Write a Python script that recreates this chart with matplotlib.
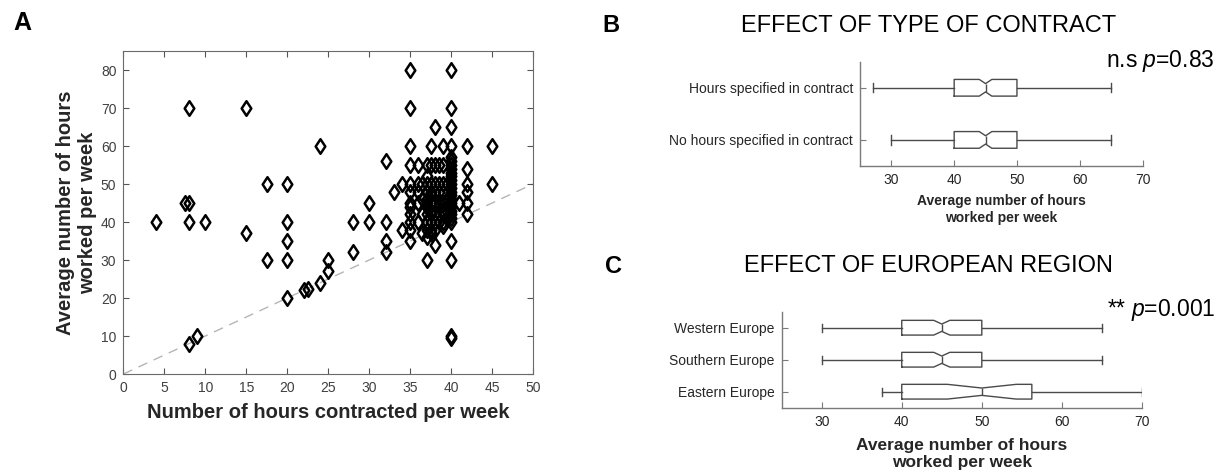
import numpy as np
import matplotlib
matplotlib.use('Agg')
import matplotlib.pyplot as plt
from matplotlib.path import Path
import warnings

warnings.filterwarnings('ignore')

# panel A: contracted vs worked hours
hours_contracted = [
    4, 7.5, 8, 8, 8, 8, 9, 10, 15, 15, 17.5, 17.5, 20, 20, 20, 20, 20,
    22, 22.5, 24, 24, 25, 25, 28, 28, 30, 30, 32, 32, 32, 32, 33, 34, 34,
    35, 35, 35, 35, 35, 35, 35, 35, 35, 35, 35, 35,
    36, 36, 36, 36, 36,
    36.5, 36.5, 36.5, 36.5,
    37, 37, 37, 37, 37, 37, 37, 37, 37, 37, 37, 37,
    37.5, 37.5, 37.5, 37.5, 37.5, 37.5, 37.5, 37.5, 37.5, 37.5, 37.5,
    38, 38, 38, 38, 38, 38, 38, 38, 38,
    38.5, 38.5, 38.5, 38.5, 38.5, 38.5, 38.5,
    39, 39, 39, 39, 39, 39, 39, 39, 39,
    39.5, 39.5, 39.5, 39.5,
    40, 40, 40, 40, 40, 40, 40, 40, 40, 40, 40, 40, 40,
    40, 40, 40, 40, 40, 40, 40, 40, 40, 40, 40, 40, 40,
    41, 42, 42, 42, 42, 42, 42, 45, 45,
]
hours_worked = [
    40, 45, 45, 40, 70, 8, 10, 40, 70, 37, 50, 30, 50, 40, 35, 30, 20,
    22, 22.5, 60, 24, 30, 27, 40, 32, 45, 40, 56, 40, 35, 32, 48, 50, 38,
    80, 70, 60, 55, 50, 48, 45, 44, 42, 40, 38, 35,
    55, 50, 48, 45, 40,
    50, 46, 42, 37,
    55, 52, 50, 48, 46, 45, 44, 42, 40, 38, 36, 30,
    60, 55, 50, 48, 47, 45, 43, 42, 40, 38, 37,
    65, 55, 50, 48, 45, 42, 40, 38, 34,
    55, 50, 48, 45, 44, 42, 40,
    60, 55, 50, 48, 45, 43, 42, 40, 39,
    50, 46, 44, 41,
    80, 70, 65, 60, 57, 56, 55, 54, 53, 52, 51, 50, 49,
    48, 47, 46, 45, 44, 43, 42, 41, 40, 35, 30, 10, 9.5,
    45, 60, 54, 50, 48, 45, 42, 60, 50,
]

# panel B: type of contract
contract_labels = ['Hours specified in contract', 'No hours specified in contract']
contract_whislo = [27, 30]
contract_q1 = [40, 40]
contract_med = [45, 45]
contract_q3 = [50, 50]
contract_whishi = [65, 65]
contract_cilo = [44, 44]
contract_cihi = [46, 46]

# panel C: european region
region_labels = ['Western Europe', 'Southern Europe', 'Eastern Europe']
region_whislo = [30, 30, 37.5]
region_q1 = [40, 40, 40]
region_med = [45, 45, 50]
region_q3 = [50, 50, 56.25]
region_whishi = [65, 65, 70]
region_cilo = [44, 44, 45.7]
region_cihi = [46, 46, 54.3]

plt.rcParams['font.family'] = ['Liberation Sans', 'DejaVu Sans']
plt.rcParams['mathtext.fontset'] = 'custom'
plt.rcParams['mathtext.it'] = 'Liberation Sans:italic'
plt.rcParams['mathtext.rm'] = 'Liberation Sans'

fig = plt.figure(figsize=(12.2, 4.71), dpi=100)

# ---------------- A ----------------
axA = fig.add_axes([0.1011, 0.2059, 0.3358, 0.6858])
diamond = Path([(0, 1), (0.66, 0), (0, -1), (-0.66, 0), (0, 1)], closed=True)
axA.axline((0, 0), slope=1, color='#b5b5b5', lw=1, dashes=(7, 5), zorder=1)
axA.plot(hours_contracted, hours_worked, ls='none', marker=diamond, ms=10.5,
         mfc='none', mec='k', mew=1.8, zorder=2)
axA.set_xlim(0, 50)
axA.set_ylim(0, 85)
axA.set_xticks(np.arange(0, 51, 5))
axA.set_yticks(np.arange(0, 81, 10))
axA.tick_params(direction='in', top=True, right=True, length=4, width=0.8,
                labelsize=10, labelcolor='#404040', color='#555555', pad=5)
for s in axA.spines.values():
    s.set_color('#6a6a6a')
    s.set_linewidth(0.8)
axA.set_xlabel('Number of hours contracted per week', fontsize=14.5,
               fontweight='bold', color='#262626', va='center')
axA.xaxis.set_label_coords(0.5, -0.118)
axA.set_ylabel('Average number of hours\nworked per week', fontsize=14.5,
               fontweight='bold', color='#262626', va='center', linespacing=1.2)
axA.yaxis.set_label_coords(-0.115, 0.5)


def box_panel(ax, labels, whislo, q1, med, q3, whishi, cilo, cihi, width, capw):
    n = len(labels)
    stats = []
    for i in range(n):
        stats.append(dict(whislo=whislo[i], q1=q1[i], med=med[i], q3=q3[i],
                          whishi=whishi[i], cilo=cilo[i], cihi=cihi[i], fliers=[]))
    pos = np.arange(n, 0, -1)
    lc = '#4a4a4a'
    ax.bxp(stats, positions=pos, widths=width, capwidths=capw, shownotches=True,
           orientation='horizontal', showfliers=False,
           boxprops=dict(color=lc, lw=1), whiskerprops=dict(color=lc, lw=1),
           capprops=dict(color=lc, lw=1), medianprops=dict(color=lc, lw=1))
    ax.set_ylim(0.5, n + 0.5)
    ax.set_xlim(25, 70)
    ax.set_xticks([30, 40, 50, 60, 70])
    ax.set_yticks(pos)
    ax.set_yticklabels(labels)
    for s in ['top', 'right']:
        ax.spines[s].set_visible(False)
    for s in ['left', 'bottom']:
        ax.spines[s].set_color('#7a7a7a')
        ax.spines[s].set_linewidth(1)
    ax.tick_params(direction='in', length=4, width=0.8, color='#7a7a7a',
                   labelcolor='#262626', pad=5)


# ---------------- B ----------------
axB = fig.add_axes([0.7049, 0.6476, 0.2316, 0.2214])
box_panel(axB, contract_labels, contract_whislo, contract_q1, contract_med,
          contract_q3, contract_whishi, contract_cilo, contract_cihi, 0.32, 0.18)
axB.tick_params(labelsize=10)
fig.text(1001 / 1220, 1 - 209.5 / 471, 'Average number of hours\nworked per week',
         ha='center', va='center', fontsize=10, fontweight='bold',
         color='#262626', linespacing=1.2)

# ---------------- C ----------------
axC = fig.add_axes([0.6407, 0.1344, 0.2953, 0.2038])
box_panel(axC, region_labels, region_whislo, region_q1, region_med,
          region_q3, region_whishi, region_cilo, region_cihi, 0.46, 0.25)
axC.tick_params(labelsize=10)
fig.text(962 / 1220, 1 - 454 / 471, 'Average number of hours\nworked per week',
         ha='center', va='center', fontsize=12.5, fontweight='bold',
         color='#262626', linespacing=1.2)

# titles, panel letters and p-values
fig.text(929 / 1220, 1 - 25.5 / 471, 'EFFECT OF TYPE OF CONTRACT', ha='center',
         va='center', fontsize=17)
fig.text(928 / 1220, 1 - 266.5 / 471, 'EFFECT OF EUROPEAN REGION', ha='center',
         va='center', fontsize=17)
fig.text(22 / 1220, 1 - 23.5 / 471, 'A', ha='center', va='center', fontsize=18,
         fontweight='bold')
fig.text(611 / 1220, 1 - 25.5 / 471, 'B', ha='center', va='center', fontsize=17,
         fontweight='bold')
fig.text(613 / 1220, 1 - 266.5 / 471, 'C', ha='center', va='center', fontsize=17,
         fontweight='bold')
fig.text(1215 / 1220, 1 - 67 / 471, r'n.s $\it{p}$=0.83', ha='right',
         va='baseline', fontsize=16.5)
fig.text(1215 / 1220, 1 - 316 / 471, r'** $\it{p}$=0.001', ha='right',
         va='baseline', fontsize=16.5)

fig.savefig('out.png', dpi=100)
